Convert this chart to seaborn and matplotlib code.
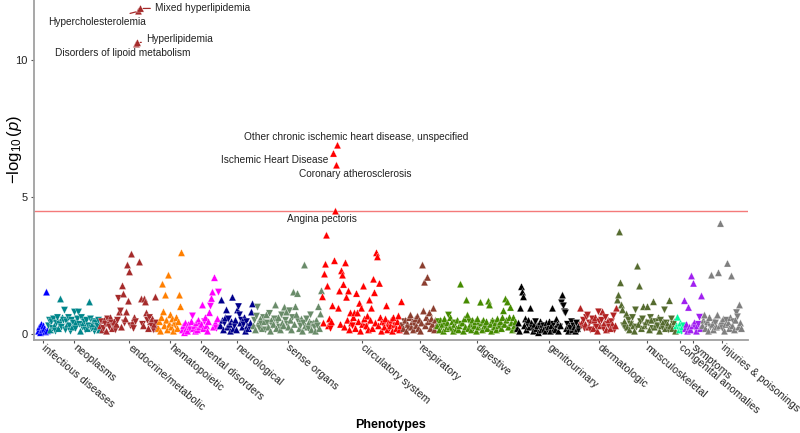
import numpy as np
import pandas as pd
import matplotlib
matplotlib.use("Agg")
import matplotlib.pyplot as plt
import seaborn as sns

# ---------------- data ----------------
# Values are -log10(p); a negative sign marks a negative effect direction (down triangle).
groups = ["infectious diseases", "neoplasms", "endocrine/metabolic", "hematopoietic",
          "mental disorders", "neurological", "sense organs", "circulatory system",
          "respiratory", "digestive", "genitourinary", "dermatologic",
          "musculoskeletal", "congenital anomalies", "symptoms", "injuries & poisonings"]

group_colors = ["#0000FF", "#00868B", "#A52A2A", "#FF7F00", "#FF00FF", "#00008B",
                "#698B69", "#FF0000", "#8B3E2F", "#458B00", "#000000", "#B22222",
                "#556B2F", "#00FA9A", "#A020F0", "#7F7F7F"]

infectious = [0.1, 0.25, 0.05, 0.35, 0.15, 0.3, 0.2, 0.08, 1.53, 0.12]
neoplasms = [-0.3, -0.5, 0.15, -0.45, -0.2, -0.55, 0.3, -0.1, -0.4, -0.6,
             0.2, -0.35, 1.28, -0.25, 0.6, -0.5, -0.87, -0.15, -0.45, 0.35,
             -0.6, -0.3, -0.1, -0.5, 0.25, -0.4, -0.8, -0.2, 0.45, -0.55,
             -0.8, -0.35, 0.1, -0.6, -0.25, 0.4, -0.45, -0.15, -0.5, 0.2,
             -0.3, 1.17, -0.55, -0.2, 0.35, -0.45, -0.1, -0.4, 0.25, -0.3,
             -0.5, 0.15]
endocrine = [0.3, -0.45, 0.15, -0.2, 0.5, -0.35, 0.1, -0.55, 0.4, -0.25,
             0.6, -0.4, 0.2, -0.3, 0.45, -0.15, 0.35, -0.5, -1.3, 0.8,
             -0.84, 0.25, 1.76, 1.46, -0.4, 0.55, 0.8, 2.52, 1.2, 2.27,
             -0.3, 2.92, 0.4, -0.2, 0.6, -0.45, 10.6, 10.65, 11.8, 2.63,
             11.9, 1.28, -0.35, 0.3, 1.28, 1.17, 0.77, -0.5, 0.2, -0.6,
             0.45, -0.3, 0.55, -0.15, 0.35, 1.35, -0.4, 0.2]
hematopoietic = [0.2, 0.45, 0.1, 0.6, 1.82, 0.81, 0.3, 1.42, 0.5, 0.15,
                 2.15, 0.35, 0.7, 0.25, 0.55, 0.1, 0.4, -0.3, 0.6, 0.2,
                 0.45, 1.42, 1.0, 2.97]
mental = [0.15, 0.3, 0.05, 0.4, 0.2, 0.1, 0.35, 0.25, -0.15, 0.45,
          -0.66, 0.2, 0.3, 0.1, 0.4, 0.15, 0.5, 0.25, -0.3, 0.35,
          1.06, 0.2, -0.45, 0.6, 0.3, 0.1, 0.45, 0.78, -1.02, 1.3,
          1.53, 0.25, 2.06, 0.4, -0.2, 0.55, -1.53, 0.3]
neurological = [0.3, 1.24, 0.5, 0.15, -0.4, 0.6, 0.88, 0.25, -0.55, 0.35,
                0.1, 0.45, 1.34, 0.2, -0.3, 0.5, 0.15, 0.88, -1.0, -0.7,
                0.4, -0.5, 0.25, -0.35, 0.6, 0.1, -0.45, 0.3, 0.2, -0.25,
                0.4, 0.8, 1.1]
sense = [0.3, -0.5, 0.15, -0.65, -0.98, 0.4, -0.2, 0.55, -0.35, 0.2,
         -0.6, 0.45, -0.15, 0.7, -0.4, 0.25, -0.75, 0.1, 0.5, -0.3,
         0.35, -0.55, 1.06, 0.2, -0.45, 0.6, -0.25, 0.15, -0.7, 0.4,
         0.3, 0.98, -0.5, 0.8, -0.35, 0.25, -0.85, 0.5, 0.15, -0.6,
         1.53, 0.35, 1.0, 0.7, 1.48, -0.45, 0.2, -0.3, 0.55, 0.1,
         -0.4, 2.52, 0.3, -0.55, 0.25, -0.2, 0.45, -0.7, 0.15, -0.35,
         0.4, -0.25, 0.1, 0.5, -0.3, 1.0, 0.2, 0.73, 1.58]
circulatory = [1.36, 0.4, 2.19, 2.55, 3.61, 1.75, 0.3, 0.55, -0.2, 0.45,
               1.03, 6.6, 2.68, 4.49, 6.17, 6.9, 0.94, 1.57, 0.35, 2.31,
               2.15, 1.81, 0.25, 2.6, 1.34, 0.5, 1.57, 0.15, 0.77, 0.4,
               -0.3, 0.6, 0.77, 0.2, 1.48, 0.77, 0.45, 1.12, 0.1, 0.94,
               0.35, 1.75, 0.55, -0.25, 0.3, 0.65, 0.15, 1.24, 0.5, 0.94,
               0.2, 2.0, 1.51, 0.4, 2.97, 2.82, 0.3, 1.85, 0.6, 0.1,
               0.45, -0.35, 0.25, 0.55, 1.03, 0.15, 0.4, -0.2, 0.3, 0.5,
               0.1, 0.6, 0.35, -0.3, 0.2, 0.45, 0.66, 0.15, 0.3, 1.18]
respiratory = [-0.3, 0.2, -0.45, 0.5, 0.1, 0.35, -0.2, 0.6, 0.69, 0.25,
               0.45, 0.15, -0.35, 0.55, 0.3, 0.65, 0.2, 0.5, 0.1, 0.4,
               2.52, 0.84, 1.89, 0.3, 0.6, 2.07, 0.45, 0.77, 0.2, 0.55,
               0.35, 0.94, 0.15, 0.5, 0.3]
digestive = [0.3, -0.45, 0.15, 0.5, -0.25, 0.35, 0.1, 0.55, -0.3, 0.2,
             0.4, -0.69, 0.25, 0.6, -0.15, 0.45, 0.1, 0.35, -0.4, 0.2,
             0.5, 0.15, 0.3, 1.82, -0.35, 0.4, 0.1, 0.55, 0.25, 1.24,
             0.69, 0.2, -0.45, 0.35, 0.15, 0.5, -0.2, 0.3, 0.45, 0.1,
             0.55, 0.25, -0.3, 1.16, 0.4, 0.15, 0.5, 0.3, -0.2, 0.45,
             0.2, 1.2, 1.06, 0.35, 0.1, 0.5, -0.4, 0.25, 0.4, 0.15,
             0.55, 0.3, -0.25, 0.45, 0.2, 0.6, 0.85, 0.35, 1.28, 0.5,
             1.17, 0.25, 0.6, 0.97, 0.4, 0.15, 0.6, 0.3, 0.45, 0.2]
genitourinary = [0.2, 0.4, 0.1, 0.94, 1.73, 1.53, 1.36, 0.3, 0.55, 0.15,
                 -0.35, 0.5, 0.25, 0.94, 0.4, -0.2, 0.1, 0.35, -0.45, 0.2,
                 0.3, 0.05, -0.25, 0.45, 0.15, 0.35, -0.3, 0.2, 0.1, 0.4,
                 -0.15, 0.25, 0.45, 0.1, 0.3, 0.94, -0.35, 0.2, 0.15, 0.54,
                 0.35, 0.1, -0.25, 0.3, -1.14, 1.42, -1.03, -0.81, -0.77, 0.2,
                 -0.35, 0.1, 0.3, -0.2, -0.45, 0.15, -0.3, 0.25, 0.1, -0.4,
                 0.2, -0.15, 0.35]
dermatologic = [0.94, -0.3, 0.45, -0.5, -0.2, 0.35, -0.6, -0.69, 0.25, -0.4,
                -0.15, 0.5, -0.55, 0.2, -0.35, 0.6, -0.25, 0.1, -0.81, -0.45,
                0.3, -0.5, 0.81, -0.2, 0.4, -0.6, 0.15, -0.35, 0.5, -0.25,
                0.2, -0.45, 0.35, -0.66, -0.15, 0.3, 0.94]
musculoskeletal = [1.24, 1.42, 3.73, 1.87, 1.06, 0.88, -0.3, 0.45, -0.2, 0.73,
                   0.25, -0.5, 0.15, -0.35, 0.4, -0.6, 0.3, 0.1, -0.88, -0.25,
                   2.48, 0.35, 1.75, -0.45, 0.2, -0.55, 1.0, 0.3, -0.3, 0.45,
                   1.0, -0.4, 0.15, -0.6, 0.5, -0.2, 1.18, 0.25, -0.45, 0.35,
                   -0.3, 0.6, 0.1, -0.5, 0.3, -0.25, 0.45, -0.88, 0.2, -0.4,
                   0.35, -0.15, 1.22, 0.3, -0.55, 0.2, -0.35, 0.45, 0.1]
congenital = [0.3, 0.61, -0.2, 0.15, 0.4, -0.1, 0.25, -0.3]
symptoms = [1.22, 0.2, 0.35, 0.1, 0.97, 0.25, 0.15, 2.12, 0.3, 1.85,
            0.41, -0.2, 0.1, 0.3, -0.35, -0.61, 0.2, 1.39]
injuries = [0.3, 0.5, 0.69, 0.2, -0.35, 0.45, 0.1, 0.6, -0.25, 2.15,
            0.35, 0.15, 0.5, -0.4, 0.25, 0.69, 2.24, 0.3, 4.04, 0.45,
            -0.2, 0.55, 0.1, 0.35, -0.5, 2.58, 0.4, 0.2, 0.6, 2.12,
            0.3, -0.45, 0.15, 0.5, -0.78, -0.63, 0.25, 1.06, 0.4, 0.2]

group_values = [infectious, neoplasms, endocrine, hematopoietic, mental, neurological,
                sense, circulatory, respiratory, digestive, genitourinary, dermatologic,
                musculoskeletal, congenital, symptoms, injuries]

threshold = 4.5  # Bonferroni line, -log10(p)

label_groups = ["endocrine/metabolic"] * 4 + ["circulatory system"] * 4
label_pos = [36, 37, 38, 40, 11, 13, 14, 15]
label_texts = ["Disorders of lipoid metabolism", "Hyperlipidemia", "Hypercholesterolemia",
               "Mixed hyperlipidemia", "Ischemic Heart Disease", "Angina pectoris",
               "Coronary atherosclerosis",
               "Other chronic ischemic heart disease, unspecified"]

# ---------------- table ----------------
rows = []
k = 0
for g, vals in zip(groups, group_values):
    for j, v in enumerate(vals):
        rows.append(dict(idx=k, group=g, pos=j, logp=abs(v),
                         direction="up" if v >= 0 else "down"))
        k += 1
df = pd.DataFrame(rows)
N = len(df)

# ---------------- layout / style ----------------
label_layout = [(-9.7, -6.5, "center", False), (6.1, 2.6, "left", True),
                (-29.9, -7.8, "center", True), (10.4, 0.3, "left", True),
                (-3.7, -4.8, "right", False), (-9.7, -5.6, "center", False),
                (13.3, -6.6, "center", False), (13.3, 5.7, "center", False)]

sns.set_theme(style="white")
plt.rcParams["font.family"] = ["Liberation Sans", "DejaVu Sans"]
plt.rcParams["mathtext.fontset"] = "custom"
plt.rcParams["mathtext.rm"] = "Liberation Sans"
plt.rcParams["mathtext.it"] = "Liberation Sans:italic"

fig = plt.figure(figsize=(8, 4.33), dpi=100)
ax = fig.add_axes([0.0425, 0.2148, 0.8925, 0.7852])

ax.axhline(threshold, color="#F47A7A", lw=1.0, zorder=0)

sns.scatterplot(data=df, x="idx", y="logp", hue="group",
                palette=dict(zip(groups, group_colors)),
                style="direction", markers={"up": "^", "down": "v"},
                s=27, linewidth=0.2, edgecolor="white", legend=False, ax=ax, zorder=2)

ppi = 704.0 / N
ax.set_xlim(-4.0 / ppi - 0.5, 710.0 / ppi - 0.5)
ax.set_ylim(-0.22, 12.21)

centers = df.groupby("group", sort=False)["idx"].mean()
ax.set_xticks(centers.values)
ax.set_xticklabels(centers.index, rotation=-40, ha="left", va="center",
                   rotation_mode="anchor", fontsize=7.7, color="#222222")
ax.set_yticks([0, 5, 10])
ax.set_yticklabels(["0", "5", "10"], fontsize=8, color="#222222")
ax.tick_params(axis="both", length=2.5, width=0.8, color="#555555", pad=2,
               bottom=True, left=True)

for side in ["top", "right"]:
    ax.spines[side].set_visible(False)
for side in ["left", "bottom"]:
    ax.spines[side].set_color("#A0A0A0")
    ax.spines[side].set_linewidth(1.3)

ax.set_xlabel("Phenotypes", fontsize=9, fontweight="bold", color="black")
ax.xaxis.set_label_coords(0.5, -0.232)
ax.set_ylabel(r"$-\log_{10}(p)$", fontsize=12, color="black")
ax.yaxis.set_label_coords(-0.0135, 0.56)

color_map = dict(zip(groups, group_colors))
for g, p, t, (dx, dy, ha, seg) in zip(label_groups, label_pos, label_texts, label_layout):
    r = df[(df.group == g) & (df.pos == p)].iloc[0]
    kw = {}
    if seg:
        kw["arrowprops"] = dict(arrowstyle="-", color=color_map[g], lw=0.9,
                                shrinkA=1, shrinkB=2)
    ax.annotate(t, xy=(r.idx, r.logp), xytext=(dx, dy), textcoords="offset points",
                ha=ha, va="center", fontsize=7.3, color="#222222", zorder=3, **kw)

fig.savefig("out.png", dpi=100)
